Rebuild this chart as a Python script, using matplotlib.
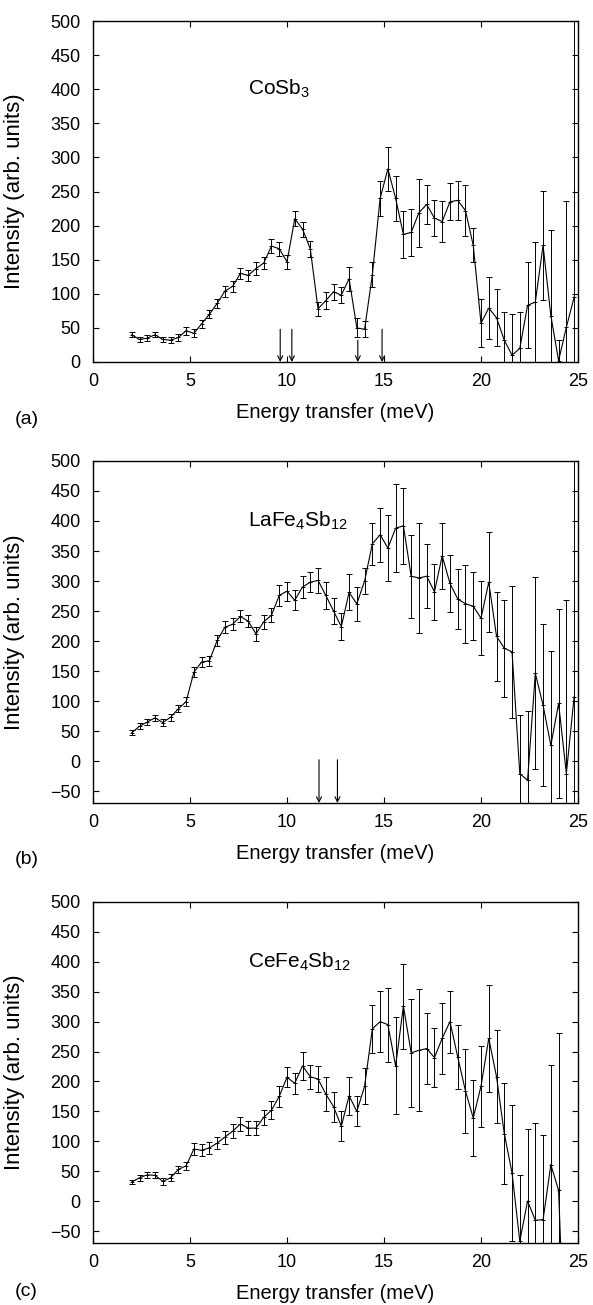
import numpy as np
import matplotlib
matplotlib.use("Agg")
import matplotlib.pyplot as plt

plt.rcParams['font.family'] = ['Liberation Sans', 'DejaVu Sans']
plt.rcParams['mathtext.fontset'] = 'custom'
plt.rcParams['mathtext.rm'] = 'Liberation Sans'
plt.rcParams['mathtext.default'] = 'rm'

# energy grid (meV)
energy = [2.0, 2.4, 2.8, 3.2, 3.6, 4.0, 4.4, 4.8, 5.2, 5.6, 6.0, 6.4, 6.8, 7.2,
          7.6, 8.0, 8.4, 8.8, 9.2, 9.6, 10.0, 10.4, 10.8, 11.2, 11.6, 12.0,
          12.4, 12.8, 13.2, 13.6, 14.0, 14.4, 14.8, 15.2, 15.6, 16.0, 16.4,
          16.8, 17.2, 17.6, 18.0, 18.4, 18.8, 19.2, 19.6, 20.0, 20.4, 20.8,
          21.2, 21.6, 22.0, 22.4, 22.8, 23.2, 23.6, 24.0, 24.4, 24.8]

# (a) CoSb3
cosb3 = [40, 33, 35, 40, 33, 32, 36, 46, 42, 56, 70, 86, 104, 111, 130, 127,
         137, 145, 170, 166, 147, 210, 195, 166, 78, 90, 103, 98, 122, 50, 48,
         128, 240, 283, 240, 187, 190, 219, 231, 211, 206, 235, 237, 222, 171,
         57, 79, 65, 32, 10, 20, 83, 88, 171, 68, 2, 51, 95]
cosb3_err = [4, 4, 4, 4, 4, 4, 5, 6, 6, 6, 6, 7, 8, 8, 8, 8, 9, 9, 10, 10, 10,
             11, 11, 12, 10, 12, 12, 12, 18, 14, 12, 18, 26, 32, 33, 35, 34, 50,
             28, 26, 30, 27, 29, 37, 25, 35, 45, 42, 41, 61, 53, 63, 88, 80, 125,
             30, 185, 600]

# (b) LaFe4Sb12
lafe = [47, 58, 65, 72, 64, 73, 87, 99, 148, 165, 167, 201, 223, 228, 241, 233,
        212, 232, 243, 276, 283, 268, 290, 298, 301, 276, 250, 224, 281, 262,
        300, 362, 377, 355, 388, 392, 308, 305, 308, 282, 342, 296, 270, 262,
        258, 238, 298, 208, 188, 182, -21, -32, 146, 93, 26, 96, -21, 107]
lafe_err = [4, 5, 5, 5, 6, 6, 6, 7, 8, 8, 8, 9, 10, 10, 10, 10, 12, 12, 12, 17,
            16, 17, 18, 17, 21, 22, 22, 22, 30, 28, 21, 35, 45, 55, 73, 63, 69,
            91, 53, 47, 55, 47, 50, 65, 57, 62, 83, 74, 81, 110, 97, 115, 160,
            135, 158, 158, 290, 600]

# (c) CeFe4Sb12
cefe = [32, 39, 44, 43, 33, 39, 53, 59, 87, 85, 89, 97, 107, 117, 129, 122,
        122, 140, 152, 175, 207, 197, 226, 208, 204, 179, 158, 125, 176, 150,
        192, 288, 300, 295, 226, 326, 248, 252, 255, 240, 272, 300, 241, 184,
        139, 192, 272, 208, 113, 47, -67, 0, -32, -31, 61, 18, -330]
cefe_err = [4, 5, 5, 5, 6, 6, 6, 7, 10, 10, 10, 10, 11, 12, 12, 12, 12, 13, 15,
            17, 17, 18, 23, 20, 22, 28, 25, 25, 32, 25, 30, 40, 51, 62, 81, 71,
            90, 102, 59, 50, 60, 52, 54, 70, 63, 68, 89, 78, 85, 114, 110, 121,
            163, 141, 167, 263, 200]

compounds = ['CoSb$_3$', 'LaFe$_4$Sb$_{12}$', 'CeFe$_4$Sb$_{12}$']
panel_tags = ['(a)', '(b)', '(c)']
ylims = [(0, 500), (-70, 500), (-70, 500)]
yticks = [list(range(0, 501, 50)), list(range(-50, 501, 50)), list(range(-50, 501, 50))]

# arrows: energy, top of arrow
arrows_a_x = [9.65, 10.25, 13.65, 14.9]
arrows_a_top = [48, 48, 32, 48]
arrows_b_x = [11.65, 12.6]
arrows_b_top = [2, 2]

fig = plt.figure(figsize=(5.93, 13.05), dpi=100)
W, H = 593, 1305
left, right = 93, 578
tops = [21, 461, 902]
bottoms = [362, 803, 1243]
tag_offsets = [57, 57, 49]

series = [(cosb3, cosb3_err), (lafe, lafe_err), (cefe, cefe_err)]
for k in range(3):
    ax = fig.add_axes([left / W, 1 - bottoms[k] / H, (right - left) / W,
                       (bottoms[k] - tops[k]) / H])
    y, e = series[k]
    x = energy[:len(y)]
    ax.errorbar(x, y, yerr=e, fmt='none', ecolor='black', elinewidth=0.7,
                capsize=2.5, capthick=0.7)
    ax.plot(x, y, '-', color='black', lw=0.8, marker='+', ms=3, mew=0.7)
    ax.set_xlim(0, 25)
    ax.set_ylim(*ylims[k])
    ax.set_xticks([0, 5, 10, 15, 20, 25])
    ax.set_yticks(yticks[k])
    ax.tick_params(direction='in', top=True, right=True, length=4, width=0.8,
                   labelsize=13)
    ax.tick_params(axis='y', pad=9)
    ax.tick_params(axis='x', pad=8)
    for s in ax.spines.values():
        s.set_linewidth(1.0)
    ax.set_ylabel('Intensity (arb. units)', fontsize=16)
    ax.yaxis.set_label_coords(-0.14, 0.5)
    ax.set_xlabel('Energy transfer (meV)', fontsize=14.5)
    ax.xaxis.set_label_coords(0.5, -0.121)
    ax.text(8.0, 400, compounds[k], fontsize=15, va='center', ha='left')
    fig.text(15 / W, 1 - (bottoms[k] + tag_offsets[k]) / H, panel_tags[k],
             fontsize=14, va='center', ha='left')

    if k == 0:
        ax_x, ax_top, bot = arrows_a_x, arrows_a_top, 0
    elif k == 1:
        ax_x, ax_top, bot = arrows_b_x, arrows_b_top, -70
    else:
        ax_x = []
    for i in range(len(ax_x)):
        ax.annotate('', xy=(ax_x[i], bot), xytext=(ax_x[i], ax_top[i]),
                    arrowprops=dict(arrowstyle='->', lw=0.8, color='black',
                                    mutation_scale=9, shrinkA=0, shrinkB=0))

fig.savefig('out.png', dpi=100)
